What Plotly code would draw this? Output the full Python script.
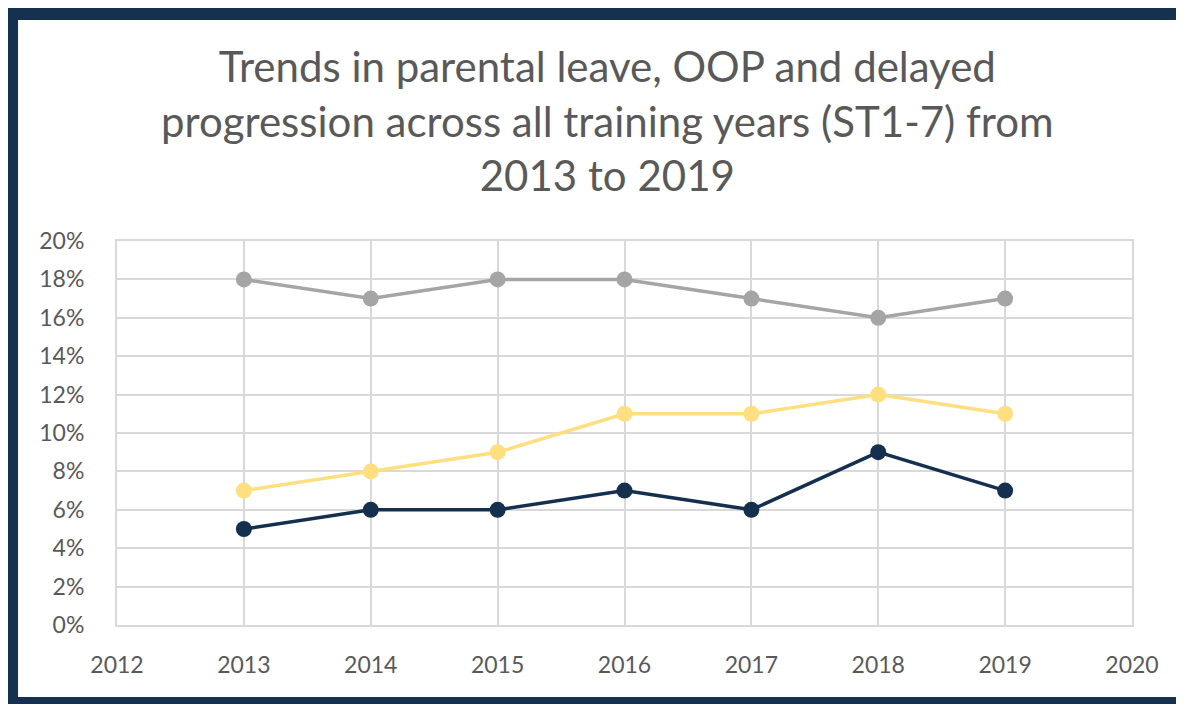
import plotly.graph_objects as go

years = [2013, 2014, 2015, 2016, 2017, 2018, 2019]
oop = [0.18, 0.17, 0.18, 0.18, 0.17, 0.16, 0.17]
parental_leave = [0.07, 0.08, 0.09, 0.11, 0.11, 0.12, 0.11]
delayed = [0.05, 0.06, 0.06, 0.07, 0.06, 0.09, 0.07]

series_names = ["OOP", "Parental leave", "Delayed progression"]
series_colors = ["#A5A5A5", "#FFDF80", "#152F4F"]

title_text = ("Trends in parental leave, OOP and delayed<br>"
              "progression across all training years (ST1-7) from<br>"
              "2013 to 2019")

NAVY = "#16304F"
TEXT_GREY = "#595959"
GRID = "#D9D9D9"
FONT = "Lato"

fig = go.Figure()
for name, vals, col in zip(series_names, [oop, parental_leave, delayed], series_colors):
    fig.add_trace(go.Scatter(
        x=years, y=vals, name=name, mode="lines+markers",
        line=dict(color=col, width=3.5),
        marker=dict(color=col, size=16),
    ))

# navy frame round the whole picture
fig.add_shape(type="rect", xref="paper", yref="paper",
              x0=-0.2, x1=1.2, y0=-0.4, y1=1.8,
              fillcolor=NAVY, line_width=0, layer="below")
fig.add_shape(type="rect", xref="paper", yref="paper",
              x0=-0.0975, x1=1.0473, y0=-0.1875, y1=1.5755,
              fillcolor="white", line_width=0, layer="below")

fig.add_annotation(
    text=title_text, xref="paper", yref="paper",
    x=0.4837, y=1.315, xanchor="center", yanchor="middle",
    showarrow=False, align="center",
    font=dict(family=FONT, size=42, color=TEXT_GREY),
)

# the page puts the figure 8px in from the corner, so it is 8px smaller
fig.update_layout(
    width=1176, height=696,
    margin=dict(l=109, r=52, t=233, b=79),
    paper_bgcolor="white",
    plot_bgcolor="rgba(0,0,0,0)",
    showlegend=False,
    font=dict(family=FONT, color=TEXT_GREY),
)
fig.update_xaxes(
    range=[2012, 2020], dtick=1, tick0=2012,
    showgrid=True, gridcolor=GRID, gridwidth=2,
    showline=True, linecolor=GRID, linewidth=2, mirror=True,
    zeroline=False, ticks="", ticklabelstandoff=18,
    tickfont=dict(family=FONT, size=23, color=TEXT_GREY),
)
fig.update_yaxes(
    range=[0, 0.2], dtick=0.02, tickformat=".0%",
    showgrid=True, gridcolor=GRID, gridwidth=2,
    showline=True, linecolor=GRID, linewidth=2, mirror=True,
    zeroline=False, ticks="", ticklabelstandoff=26,
    tickfont=dict(family=FONT, size=23, color=TEXT_GREY),
)

fig.write_html("out.html")
